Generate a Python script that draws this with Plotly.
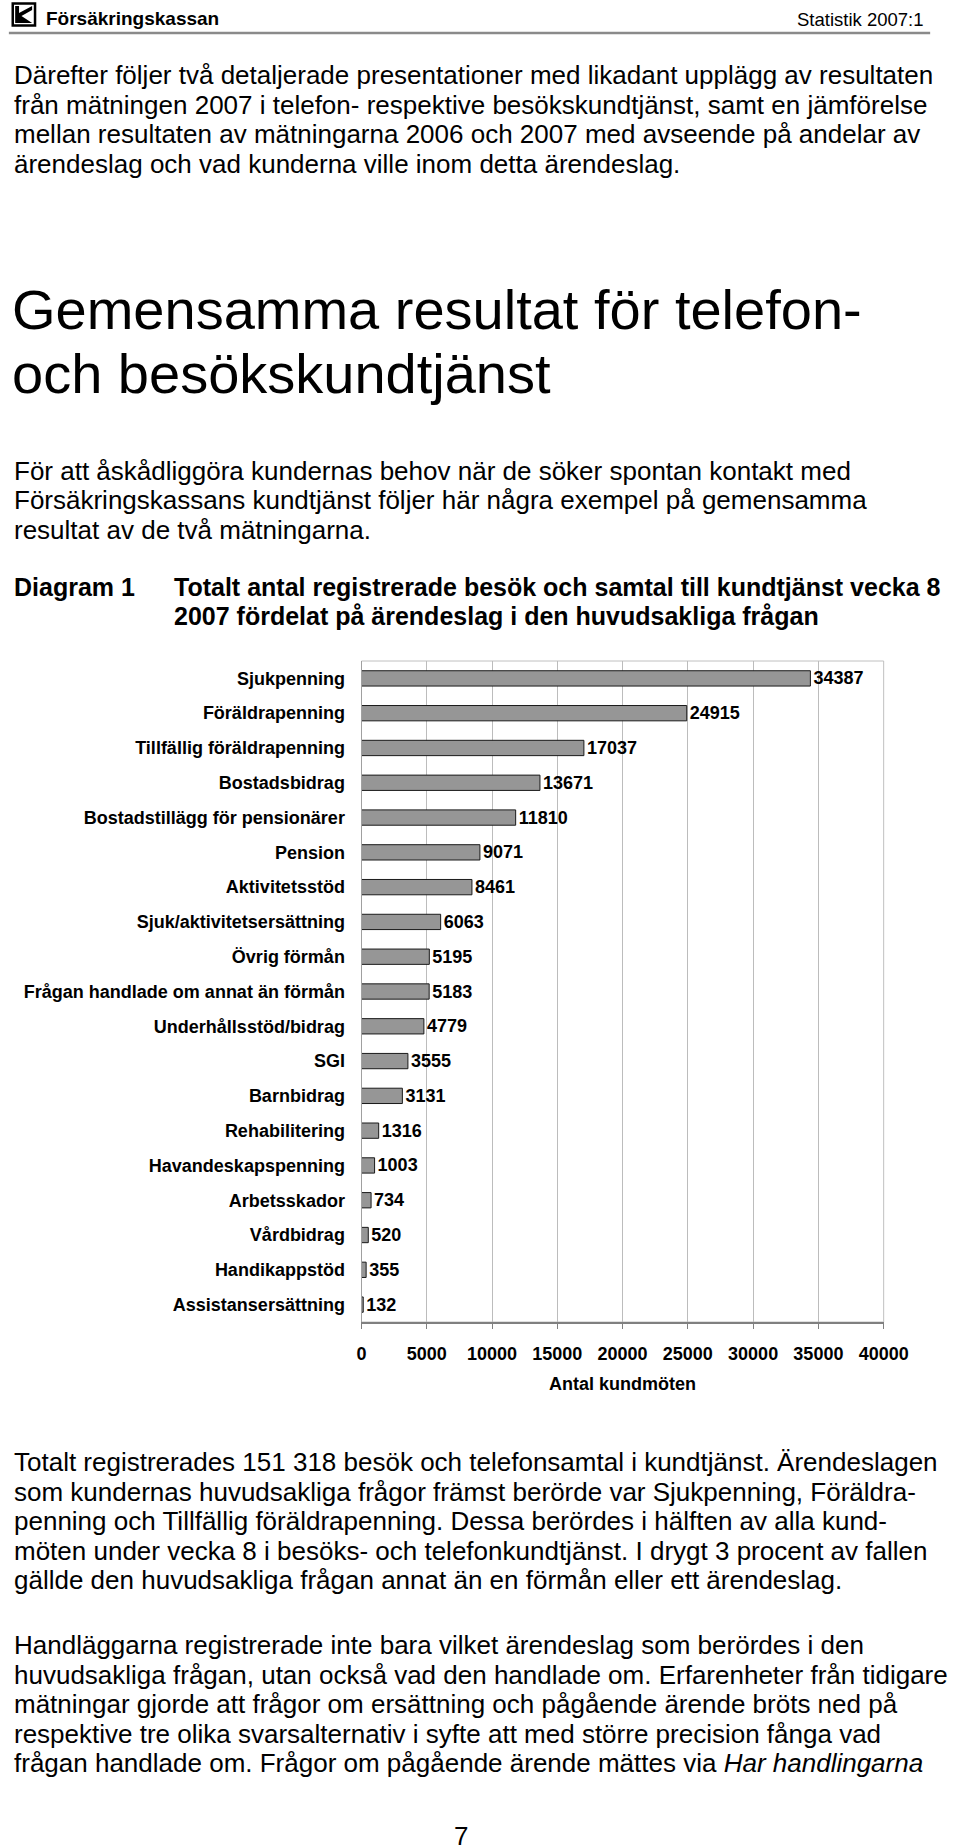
import plotly.graph_objects as go

W, H = 960, 1847

categories = ["Sjukpenning", "Föräldrapenning", "Tillfällig föräldrapenning", "Bostadsbidrag",
              "Bostadstillägg för pensionärer", "Pension", "Aktivitetsstöd",
              "Sjuk/aktivitetsersättning", "Övrig förmån", "Frågan handlade om annat än förmån",
              "Underhållsstöd/bidrag", "SGI", "Barnbidrag", "Rehabilitering",
              "Havandeskapspenning", "Arbetsskador", "Vårdbidrag", "Handikappstöd",
              "Assistansersättning"]
values = [34387, 24915, 17037, 13671, 11810, 9071, 8461, 6063, 5195, 5183,
          4779, 3555, 3131, 1316, 1003, 734, 520, 355, 132]
x_tickvals = [0, 5000, 10000, 15000, 20000, 25000, 30000, 35000, 40000]
x_ticktext = ["0", "5000", "10000", "15000", "20000", "25000", "30000", "35000", "40000"]
x_title = "Antal kundmöten"

header_left = "Försäkringskassan"
header_right = "Statistik 2007:1"
para1 = ["Därefter följer två detaljerade presentationer med likadant upplägg av resultaten",
         "från mätningen 2007 i telefon- respektive besökskundtjänst, samt en jämförelse",
         "mellan resultaten av mätningarna 2006 och 2007 med avseende på andelar av",
         "ärendeslag och vad kunderna ville inom detta ärendeslag."]
heading = ["Gemensamma resultat för telefon-", "och besökskundtjänst"]
intro = ["För att åskådliggöra kundernas behov när de söker spontan kontakt med",
         "Försäkringskassans kundtjänst följer här några exempel på gemensamma",
         "resultat av de två mätningarna."]
diag_label = "Diagram 1"
diag_title = ["Totalt antal registrerade besök och samtal till kundtjänst vecka 8",
              "2007 fördelat på ärendeslag i den huvudsakliga frågan"]
para2 = ["Totalt registrerades 151 318 besök och telefonsamtal i kundtjänst. Ärendeslagen",
         "som kundernas huvudsakliga frågor främst berörde var Sjukpenning, Föräldra-",
         "penning och Tillfällig föräldrapenning. Dessa berördes i hälften av alla kund-",
         "möten under vecka 8 i besöks- och telefonkundtjänst. I drygt 3 procent av fallen",
         "gällde den huvudsakliga frågan annat än en förmån eller ett ärendeslag."]
para3 = ["Handläggarna registrerade inte bara vilket ärendeslag som berördes i den",
         "huvudsakliga frågan, utan också vad den handlade om. Erfarenheter från tidigare",
         "mätningar gjorde att frågor om ersättning och pågående ärende bröts ned på",
         "respektive tre olika svarsalternativ i syfte att med större precision fånga vad",
         "frågan handlade om. Frågor om pågående ärende mättes via <i>Har handlingarna</i>"]
page_no = "7"

FONT = "Liberation Sans, Arial, sans-serif"


def px(x):
    return x / W


def py(y):
    return 1 - y / H


annotations = []


def txt(x, y, s, size, bold=False, anchor="left"):
    annotations.append(dict(
        x=px(x), y=py(y), xref="paper", yref="paper", text=("<b>%s</b>" % s) if bold else s,
        showarrow=False, xanchor=anchor, yanchor="middle",
        font=dict(family=FONT, size=size, color="black")))


# header
txt(40, 18, header_left, 19, bold=True)
txt(951, 19, header_right, 18.5, anchor="right")

for i, s in enumerate(para1):
    txt(7, 75 + i * 29.5, s, 26)
for i, s in enumerate(heading):
    txt(5, 309 + i * 64, s, 56)
for i, s in enumerate(intro):
    txt(7, 471 + i * 29.3, s, 26)
txt(7, 587, diag_label, 25, bold=True)
for i, s in enumerate(diag_title):
    txt(172, 587 + i * 29, s, 25, bold=True)
for i, s in enumerate(para2):
    txt(7, 1462 + i * 29.5, s, 26)
for i, s in enumerate(para3):
    txt(7, 1645 + i * 29.5, s, 26)
txt(471, 1836, page_no, 26, anchor="center")

shapes = [
    # header rule
    dict(type="line", xref="paper", yref="paper", x0=px(4), x1=px(955), y0=py(33), y1=py(33),
         line=dict(color="#8a8a8a", width=2.5)),
    # logo frame
    dict(type="rect", xref="paper", yref="paper", x0=px(8), x1=px(31), y0=py(3.5), y1=py(25.5),
         line=dict(color="black", width=2.5), fillcolor="white"),
    # logo inner mark
    dict(type="path", xref="paper", yref="paper",
         path="M %f,%f L %f,%f L %f,%f L %f,%f L %f,%f L %f,%f L %f,%f L %f,%f Z" % (
             px(10.5), py(6), px(14.5), py(6), px(14.5), py(13), px(28), py(6), px(28), py(10),
             px(17), py(16), px(28), py(23), px(10.5), py(23)),
         line=dict(width=0), fillcolor="black"),
    # plot frame
    dict(type="rect", xref="x domain", yref="y domain", x0=0, x1=1, y0=0, y1=1,
         line=dict(color="#c0c0c0", width=1), layer="below"),
]

fig = go.Figure(go.Bar(
    x=values, y=categories, orientation="h",
    marker=dict(color="#969696", line=dict(color="#1a1a1a", width=1)),
    text=[str(v) for v in values], texttemplate="%{text}", textposition="outside",
    textfont=dict(family=FONT, size=18, color="black", weight="bold"),
    cliponaxis=False, constraintext="none", hoverinfo="skip",
))

fig.update_layout(
    width=W, height=H, margin=dict(l=0, r=0, t=0, b=0),
    paper_bgcolor="white", plot_bgcolor="white", showlegend=False,
    bargap=0.56, annotations=annotations, shapes=shapes,
    font=dict(family=FONT, color="black"),
    xaxis=dict(domain=[px(368), px(907)], range=[0, 40000], tickvals=x_tickvals,
               ticktext=x_ticktext, showgrid=True, gridcolor="#bcbcbc", gridwidth=1,
               zeroline=False, showline=True, linecolor="#808080", linewidth=1.5,
               ticks="outside", ticklen=5, tickcolor="#808080",
               tickfont=dict(family=FONT, size=18, color="black", weight="bold"),
               ticklabelstandoff=10,
               title=dict(text=x_title, standoff=14,
                          font=dict(family=FONT, size=18, color="black", weight="bold"))),
    yaxis=dict(domain=[py(1322), py(661)], autorange="reversed", type="category",
               categoryorder="array", categoryarray=categories,
               showgrid=False, showline=True, linecolor="#a0a0a0", linewidth=1, ticks="",
               tickfont=dict(family=FONT, size=18, color="black", weight="bold"),
               ticklabelstandoff=12),
)

fig.write_html("out.html", config={"displayModeBar": False},
               post_script="document.body.style.margin='0';document.body.style.overflow='hidden';")
